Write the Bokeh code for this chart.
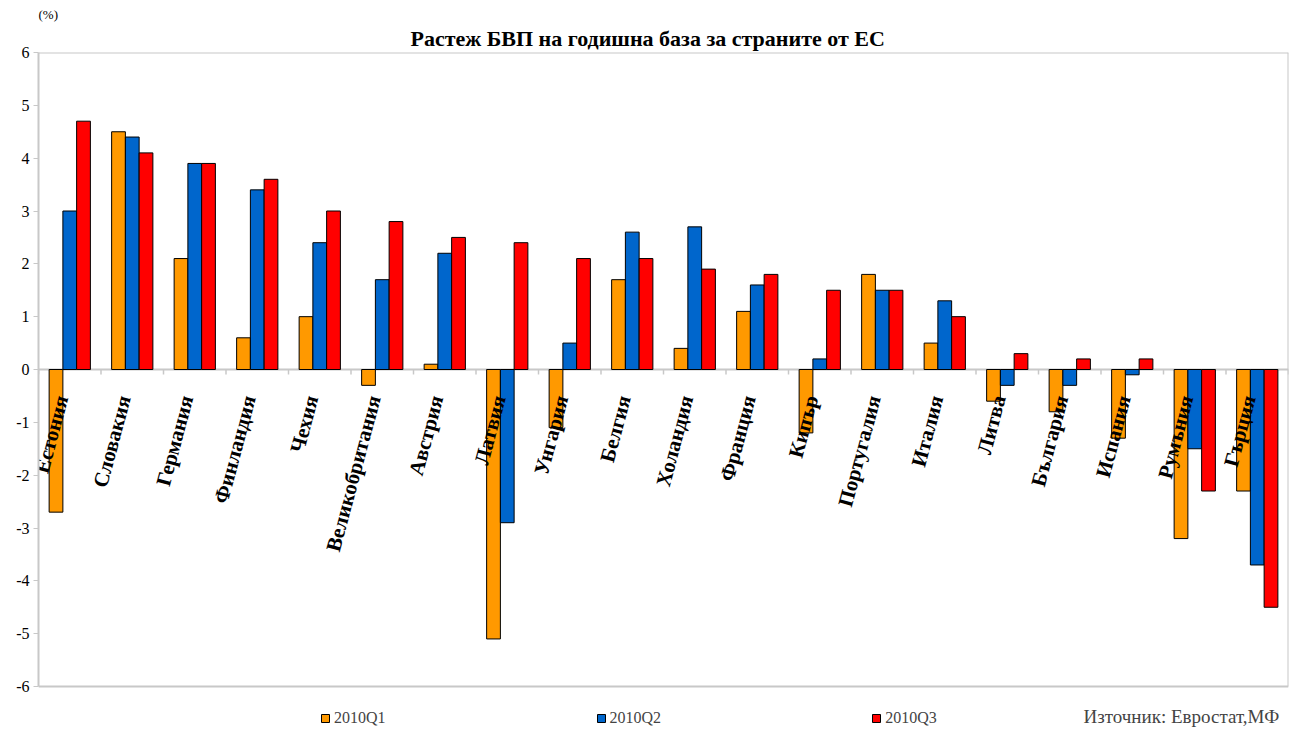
from bokeh.plotting import figure
from bokeh.models import (ColumnDataSource, Range1d, FixedTicker, Legend,
                          LegendItem, Label, Title, Span)
from bokeh.core.properties import value
from bokeh.embed import file_html
from bokeh.resources import INLINE
import math

countries = ["Естония", "Словакия", "Германия", "Финландия", "Чехия", "Великобритания",
             "Австрия", "Латвия", "Унгария", "Белгия", "Холандия", "Франция", "Кипър",
             "Португалия", "Италия", "Литва", "България", "Испания", "Румъния", "Гърция"]
q1 = [-2.7, 4.5, 2.1, 0.6, 1.0, -0.3, 0.1, -5.1, -1.1, 1.7, 0.4, 1.1, -1.2, 1.8, 0.5, -0.6, -0.8, -1.3, -3.2, -2.3]
q2 = [3.0, 4.4, 3.9, 3.4, 2.4, 1.7, 2.2, -2.9, 0.5, 2.6, 2.7, 1.6, 0.2, 1.5, 1.3, -0.3, -0.3, -0.1, -1.5, -3.7]
q3 = [4.7, 4.1, 3.9, 3.6, 3.0, 2.8, 2.5, 2.4, 2.1, 2.1, 1.9, 1.8, 1.5, 1.5, 1.0, 0.3, 0.2, 0.2, -2.3, -4.5]
series_names = ["2010Q1", "2010Q2", "2010Q3"]
series_colors = ["#FF9900", "#0066CC", "#FF0000"]
y_ticks = [-6, -5, -4, -3, -2, -1, 0, 1, 2, 3, 4, 5, 6]
y_min, y_max = -6, 6

SERIF = "Liberation Serif"
GRAY = "#c8c8c8"
n = len(countries)
bar_w = 0.22

W, H = 1291, 727
left, right, top = 38, 3, 52
axis_bottom_px = 686                       # pixel row of y = -6
px_per_unit = (axis_bottom_px - top) / (y_max - y_min)
y_start = y_min - (H - axis_bottom_px) / px_per_unit   # frame reaches canvas bottom

p = figure(width=W, height=H, output_backend="svg", toolbar_location=None,
           x_range=Range1d(0, n), y_range=Range1d(y_start, y_max),
           x_axis_location=None, y_axis_location="left",
           min_border_left=left, min_border_right=right, min_border_top=top, min_border_bottom=0)
p.grid.visible = False
p.outline_line_color = None
p.background_fill_color = "white"
p.border_fill_color = "white"

# titles: p.title is outermost, added one sits next to the frame
p.title = Title(text="(%)", align="left", text_font=SERIF, text_font_size="13px",
                text_font_style="normal", text_color="black", standoff=2)
p.add_layout(Title(text="Растеж БВП на годишна база за страните от ЕС", align="left",
                   offset=372, text_font=SERIF, text_font_size="22px", text_font_style="bold",
                   text_color="black", standoff=3), "above")

# y axis
ya = p.yaxis[0]
ya.ticker = FixedTicker(ticks=y_ticks)
ya.bounds = (y_min, y_max)
ya.major_label_overrides = {t: str(t) for t in y_ticks}
ya.axis_line_color = GRAY
ya.axis_line_width = 2
ya.major_tick_line_color = GRAY
ya.major_tick_out = 5
ya.major_tick_in = 0
ya.minor_tick_line_color = None
ya.major_label_text_font = SERIF
ya.major_label_text_font_size = "16px"
ya.major_label_text_color = "black"
ya.major_label_standoff = 4

# plot-area border (top, right, bottom) and zero line with category ticks
p.add_layout(Span(location=y_max, dimension="width", line_color=GRAY, line_width=2))
p.segment(x0=[0, n], y0=[y_min, y_min], x1=[n, n], y1=[y_min, y_max],
          line_color=GRAY, line_width=2)
p.add_layout(Span(location=0, dimension="width", line_color=GRAY, line_width=2, level="underlay"))
bounds_x = list(range(n + 1))
tick_len = 5 / px_per_unit
p.segment(x0=bounds_x, y0=[0] * len(bounds_x), x1=bounds_x, y1=[-tick_len] * len(bounds_x),
          line_color=GRAY, line_width=1.5)

renderers = []
for k, (vals, col) in enumerate(zip([q1, q2, q3], series_colors)):
    src = ColumnDataSource(dict(x=[i + 0.5 + (k - 1) * bar_w for i in range(n)], top=vals))
    r = p.vbar(x="x", top="top", bottom=0, width=bar_w, source=src,
               fill_color=col, line_color="black", line_width=1)
    renderers.append(r)

# category labels
lab_src = ColumnDataSource(dict(x=[i + 0.5 for i in range(n)], y=[-0.5] * n, text=countries))
p.text(x="x", y="y", text="text", source=lab_src, angle=math.radians(75),
       text_align="right", text_baseline="middle", x_offset=-8,
       text_font=value(SERIF), text_font_size="21px", text_font_style="bold",
       text_color="black")

legend = Legend(items=[LegendItem(label=nm, renderers=[r]) for nm, r in zip(series_names, renderers)],
                orientation="horizontal", location=(282, 0), spacing=210,
                glyph_width=10, glyph_height=10, label_standoff=4, label_height=10,
                label_text_font=SERIF, label_text_font_size="16px", label_text_baseline="middle",
                border_line_color=None, background_fill_alpha=0, padding=0, margin=0)
p.add_layout(legend)

p.add_layout(Label(x=16.72, y=y_start + 1 / px_per_unit, text="Източник: Евростат,МФ",
                   text_font=SERIF, text_font_size="19px",
                   text_baseline="bottom", text_align="left"))

open("out.html", "w").write(file_html(p, INLINE))
